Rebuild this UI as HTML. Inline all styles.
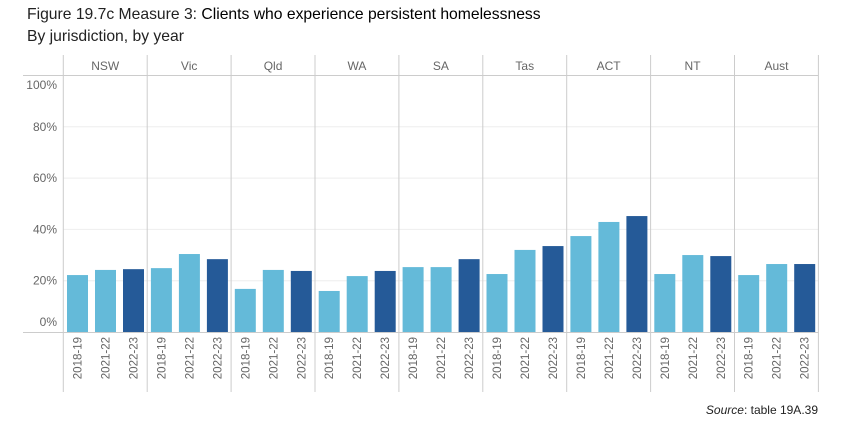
<!DOCTYPE html>
<html><head><meta charset="utf-8"><style>
body{margin:0;background:#fff;font-family:"Liberation Sans",sans-serif;}
svg{display:block}
</style></head><body>
<svg width="847" height="430" xmlns="http://www.w3.org/2000/svg">
<text x="27" y="19" font-size="15.7" fill="#222">Figure 19.7c Measure 3: <tspan fill="#000">Clients who experience persistent homelessness</tspan></text>
<text x="27" y="41" font-size="15.7" fill="#222">By jurisdiction, by year</text>
<g id="g"></g>
<text x="818" y="414" font-size="12" fill="#222" text-anchor="end"><tspan font-style="italic">Source</tspan>: table 19A.39</text>
</svg>
<script>
const jurisdictions=["NSW","Vic","Qld","WA","SA","Tas","ACT","NT","Aust"];
const years=["2018-19","2021-22","2022-23"];
const v2018=[22.2,24.9,16.8,16.0,25.3,22.6,37.4,22.6,22.2];
const v2021=[24.2,30.4,24.2,21.8,25.3,32.0,42.9,30.0,26.5];
const v2022=[24.5,28.4,23.8,23.8,28.4,33.5,45.2,29.6,26.5];
const yTicks=[0,20,40,60,80,100];
const series=[v2018,v2021,v2022];
const colors=["#64BAD9","#64BAD9","#255A98"];
const NS="http://www.w3.org/2000/svg";
const g=document.getElementById('g');
const left=63.3,pw=83.9,y0=332,y100=75.5;
const y=v=>y0-(v/100)*(y0-y100);
function mk(t,a){const e=document.createElementNS(NS,t);for(const k in a)e.setAttribute(k,a[k]);g.appendChild(e);return e;}
yTicks.forEach(t=>{if(t>0&&t<100){const l=mk('line',{x1:left,x2:818.5,y1:y(t),y2:y(t),stroke:'#eee','stroke-width':1});

}
const ty=t===100?89:(t===0?326:y(t)+4);
const tx=mk('text',{x:57,y:ty,'font-size':12,fill:'#666','text-anchor':'end'});tx.textContent=t+'%';

});
const hl=mk('line',{x1:23,x2:818.5,y1:75.5,y2:75.5,stroke:'#ccc'});


for(let i=0;i<=jurisdictions.length;i++){const x=left+i*pw;
const l=mk('line',{x1:x,x2:x,y1:55,y2:392,stroke:'#ccc'});

}
jurisdictions.forEach((j,i)=>{const px=left+i*pw;
const h=mk('text',{x:px+pw/2,y:70,'font-size':12,fill:'#666','text-anchor':'middle'});h.textContent=j;


series.forEach((s,k)=>{const bx=px+3.7+k*28;
const r=mk('rect',{x:bx,y:y(s[i]),width:21,height:y0-y(s[i]),fill:colors[k]});


const tx=bx+10.5+4;
const t=mk('text',{x:tx,y:337,'font-size':11.5,fill:'#666','text-anchor':'end',transform:`rotate(-90 ${tx} 337)`});t.textContent=years[k];

});});
const ax=mk('line',{x1:23,x2:818.5,y1:332.5,y2:332.5,stroke:'#ccc'});


</script>
</body></html>
